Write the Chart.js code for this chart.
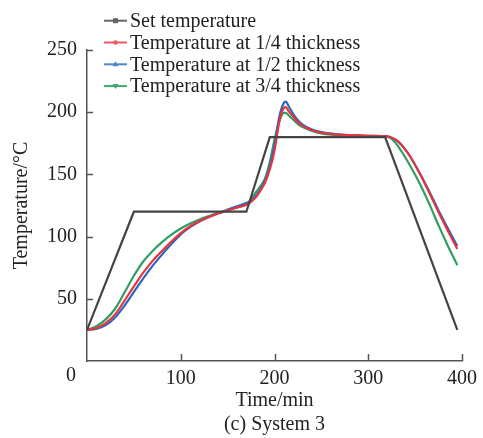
<!DOCTYPE html>
<html>
<head>
<meta charset="utf-8">
<script src="https://cdn.jsdelivr.net/npm/chart.js@4.4.1/dist/chart.umd.min.js"></script>
<style>
    body { margin: 0; background: #fff; }
    canvas { display: block; }
</style>
</head>
<body>
<canvas id="tempChart" width="483" height="438"></canvas>
<script>
var setTime = [0, 50, 170, 195, 318, 395];
var setTemp = [25, 120, 120, 180, 180, 25];

var curveTime = [0, 10, 20, 30, 40, 50, 60, 70, 80, 90, 100, 110, 120, 130, 140, 150, 160, 170,
    175, 180, 185, 190, 195, 200, 205, 210, 212, 215, 220, 225, 230,
    240, 250, 260, 270, 280, 300, 320, 325, 330, 335, 340, 345, 355, 365, 375, 385, 395];
var quarterTemp = [25, 26.5, 30.5, 37.5, 48.5, 60, 71, 80.5, 88.5, 96, 102.8, 108.3, 112.5, 115.8, 118.6, 121.1, 123.4, 125.7,
    128, 131.5, 137, 143.5, 154, 169, 192, 203.5, 204, 201, 196.5, 192, 189,
    185.5, 183.5, 182.5, 182, 181.5, 181, 180.5, 179.5, 177.5, 174, 169.5, 164, 150.5, 135.5, 119.5, 104.5, 90];
var halfTemp = [25, 25.8, 28.8, 35, 44.5, 55.5, 66.5, 76.5, 85.5, 94, 101.8, 107.6, 112.1, 115.8, 118.9, 121.7, 124.4, 127,
    128.5, 132.5, 138, 145, 157, 173, 196, 207.5, 208.5, 205, 198.5, 193.5, 190,
    186, 184, 183, 182, 181.5, 181, 180.5, 179.5, 177.5, 174, 169.5, 164, 151, 136.5, 121, 106.5, 92.5];
var threeQuarterTemp = [25, 28, 33.5, 42, 55, 68.5, 80, 88.5, 95.5, 101.5, 106.5, 110.5, 113.8, 116.5, 119, 121.2, 123.5, 126,
    130, 135.5, 140.5, 147, 160, 178, 192.5, 199.5, 199.5, 197.5, 194, 190.5, 188,
    185, 183, 182, 181.5, 181, 180.5, 180.3, 178.5, 174.5, 169, 163, 156.5, 142.5, 126.5, 109, 92.5, 77];

var seriesNames = ['Set temperature', 'Temperature at 1/4 thickness', 'Temperature at 1/2 thickness', 'Temperature at 3/4 thickness'];
var xTicks = [0, 100, 200, 300, 400];
var yTicks = [0, 50, 100, 150, 200, 250];

var serif = "'Liberation Serif', 'Times New Roman', serif";
var axisColor = '#555555';
var fontSize = 20;

var toPoints = function (xs, ys) {
    var pts = [];
    for (var i = 0; i < xs.length; i++) {
        pts.push({ x: xs[i], y: ys[i] });
    }
    return pts;
};

// legend, inward tick marks and the shared "0" at the corner
var extrasPlugin = {
    id: 'extras',
    afterDraw: function (chart) {
        var ctx = chart.ctx;
        var xs = chart.scales.x;
        var ys = chart.scales.y;
        var area = chart.chartArea;
        ctx.save();
        ctx.strokeStyle = axisColor;
        ctx.lineWidth = 1.5;
        ctx.beginPath();
        for (var i = 1; i < yTicks.length; i++) {
            var py = Math.round(ys.getPixelForValue(yTicks[i])) + 0.5;
            ctx.moveTo(area.left, py);
            ctx.lineTo(area.left + 6, py);
        }
        for (var j = 1; j < xTicks.length; j++) {
            var px = Math.round(xs.getPixelForValue(xTicks[j])) + 0.5;
            ctx.moveTo(px, area.bottom);
            ctx.lineTo(px, area.bottom - 7);
        }
        ctx.stroke();

        ctx.fillStyle = '#222';
        ctx.font = fontSize + 'px ' + serif;
        ctx.textAlign = 'center';
        ctx.textBaseline = 'middle';
        ctx.fillText('0', 71, 376);

        var marks = ['square', 'circle', 'triangle', 'down'];
        ctx.textAlign = 'left';
        for (var k = 0; k < chart.data.datasets.length; k++) {
            var ds = chart.data.datasets[k];
            var ry = 20.7 + k * 21.8;
            ctx.strokeStyle = ds.legendColor;
            ctx.fillStyle = ds.legendColor;
            ctx.lineWidth = 2;
            ctx.beginPath();
            ctx.moveTo(104, ry);
            ctx.lineTo(127, ry);
            ctx.stroke();
            var cx = 115.5;
            ctx.beginPath();
            if (marks[k] === 'square') {
                ctx.rect(cx - 2.5, ry - 2.5, 5, 5);
            } else if (marks[k] === 'circle') {
                ctx.arc(cx, ry, 2.3, 0, Math.PI * 2);
            } else if (marks[k] === 'triangle') {
                ctx.moveTo(cx, ry - 3);
                ctx.lineTo(cx + 3, ry + 2);
                ctx.lineTo(cx - 3, ry + 2);
            } else {
                ctx.moveTo(cx, ry + 3);
                ctx.lineTo(cx + 3, ry - 2);
                ctx.lineTo(cx - 3, ry - 2);
            }
            ctx.fill();
            ctx.fillStyle = '#222';
            ctx.fillText(ds.label, 130, ry + 1);
        }
        ctx.restore();
    }
};

var lineSet = function (label, pts, color, legendColor) {
    return {
        label: label,
        data: pts,
        borderColor: color,
        legendColor: legendColor,
        borderWidth: 2.2,
        pointRadius: 0,
        fill: false,
        cubicInterpolationMode: 'monotone'
    };
};

var chartData = {
    datasets: [
        lineSet(seriesNames[0], toPoints(setTime, setTemp), '#444444', '#666666'),
        lineSet(seriesNames[1], toPoints(curveTime, quarterTemp), '#e8343c', '#ea5a5f'),
        lineSet(seriesNames[2], toPoints(curveTime, halfTemp), '#2c66c0', '#4f86cc'),
        lineSet(seriesNames[3], toPoints(curveTime, threeQuarterTemp), '#2e9e62', '#3eaa6e')
    ]
};
chartData.datasets[0].cubicInterpolationMode = 'default';
chartData.datasets[0].tension = 0;

new Chart(document.getElementById('tempChart'), {
    type: 'line',
    data: chartData,
    plugins: [extrasPlugin],
    options: {
        responsive: false,
        animation: false,
        layout: { padding: { top: 50, right: 18, left: 0, bottom: 0 } },
        plugins: {
            legend: { display: false },
            tooltip: { enabled: false },
            title: {
                display: true,
                text: '(c) System 3',
                position: 'bottom',
                fullSize: false,
                color: '#222',
                font: { family: serif, size: fontSize, weight: 'normal' },
                padding: { top: 0, bottom: 1 }
            }
        },
        scales: {
            x: {
                type: 'linear',
                min: 0,
                max: 400,
                afterBuildTicks: function (scale) {
                    scale.ticks = xTicks.map(function (v) { return { value: v }; });
                },
                afterFit: function (scale) { scale.height = 52; },
                grid: { display: false, drawTicks: false },
                border: { display: true, color: axisColor, width: 1.5 },
                ticks: {
                    padding: 6,
                    color: '#222',
                    font: { family: serif, size: fontSize },
                    maxRotation: 0,
                    callback: function (v) { return v === 0 ? '' : v; }
                },
                title: {
                    display: true,
                    text: 'Time/min',
                    color: '#222',
                    font: { family: serif, size: fontSize },
                    padding: 0
                }
            },
            y: {
                min: 0,
                max: 250,
                afterBuildTicks: function (scale) {
                    scale.ticks = yTicks.map(function (v) { return { value: v }; });
                },
                afterFit: function (scale) { scale.width = 87; },
                grid: { display: false, drawTicks: false },
                border: { display: true, color: axisColor, width: 1.5 },
                ticks: {
                    padding: 10,
                    color: '#222',
                    font: { family: serif, size: fontSize },
                    callback: function (v) { return v === 0 ? '' : v; }
                },
                title: {
                    display: true,
                    text: 'Temperature/°C',
                    color: '#222',
                    font: { family: serif, size: fontSize },
                    padding: { top: 10, bottom: 0 }
                }
            }
        }
    }
});
</script>
</body>
</html>
